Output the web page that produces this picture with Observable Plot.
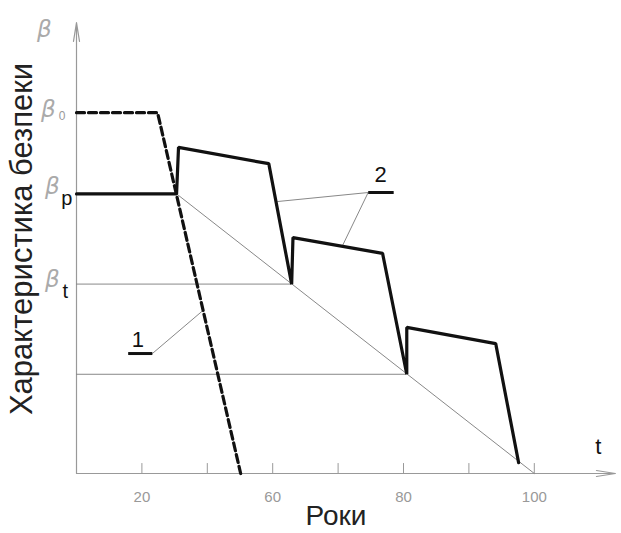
<!DOCTYPE html>
<html>
<head>
<meta charset="utf-8">
<script src="https://cdn.jsdelivr.net/npm/d3@7"></script>
<script src="https://cdn.jsdelivr.net/npm/@observablehq/plot@0.6"></script>
<style>
  html, body { margin: 0; padding: 0; background: #fff; }
  #chart svg { display: block; }
</style>
</head>
<body>
<div id="chart"></div>
<script>
// ---- data (x in tick units, y in arbitrary safety units) ----
const xTicks = [10, 20, 30, 40, 50, 60, 70];
const xTickLabels = ["20", "", "60", "", "80", "", "100"];

// curve 1: dashed (no maintenance)
const curve1X = [0, 12.4, 25.1];
const curve1Y = [80, 80, 0];

// curve 2: thick (with repairs)
const curve2X = [0, 15.3, 15.6, 29.4, 32.9, 33.1, 46.8, 50.5, 50.5, 64.1, 67.6];
const curve2Y = [62, 62, 72.3, 68.7, 42, 52.3, 48.8, 22, 32.4, 28.8, 2.4];

// thin diagonal (degradation limit line)
const diagX = [15.3, 70];
const diagY = [62, 0];

// thin horizontal levels
const levelY = [42, 22];
const levelEndX = [32.9, 50.5];

// leader lines: [x1, y1, x2, y2]
const leaders = [
  [11.6, 26.6, 19.3, 36.1],
  [44.6, 62.3, 30.7, 60.3],
  [44.6, 62.3, 40.7, 50.6]
];
// label underlines
const underlines = [
  [7.9, 26.6, 11.6, 26.6],
  [44.6, 62.3, 48.5, 62.3]
];
const curveLabels = ["1", "2"];
const curveLabelX = [9.4, 46.5];
const curveLabelY = [29.6, 66.2];

// beta labels
const betaLabels = [
  {t: "β", x: -4.9, y: 98.4},
  {t: "β", x: -4.3, y: 80.7},
  {t: "β", x: -3.7, y: 63.6},
  {t: "β", x: -3.7, y: 43.0}
];
const subLabels = [
  {t: "0", x: -2.2, y: 79.2, size: 12, fill: "#999"},
  {t: "p", x: -1.5, y: 61.0, size: 20, fill: "#111"},
  {t: "t", x: -1.7, y: 40.4, size: 20, fill: "#111"}
];

const xAxisEnd = 82.4;
const yAxisEnd = 100;

const c1 = curve1X.map((x, i) => ({x, y: curve1Y[i]}));
const c2 = curve2X.map((x, i) => ({x, y: curve2Y[i]}));
const dg = diagX.map((x, i) => ({x, y: diagY[i]}));
const lv = levelY.map((y, i) => ({x1: 0, x2: levelEndX[i], y}));
const ticks = xTicks.map((x, i) => ({x, label: xTickLabels[i]}));
const cl = curveLabels.map((t, i) => ({t, x: curveLabelX[i], y: curveLabelY[i]}));

const chart = Plot.plot({
  width: 621,
  height: 533,
  margin: 0,
  x: {domain: [0, 80], range: [76, 599.2], axis: null},
  y: {domain: [0, 100], range: [473, 22], axis: null},
  style: {fontFamily: "Liberation Sans, Arial, sans-serif", background: "#fff"},
  marks: [
    // axes with arrows
    Plot.arrow([0], {x1: 0, y1: 0, x2: xAxisEnd, y2: 0, stroke: "#999", strokeWidth: 1.2, headLength: 24, headAngle: 18}),
    Plot.arrow([0], {x1: 0, y1: 0, x2: 0, y2: yAxisEnd, stroke: "#999", strokeWidth: 1.2, headLength: 24, headAngle: 18}),
    // ticks
    Plot.ruleX(ticks, {x: "x", y1: 0, y2: 2.2, stroke: "#999", strokeWidth: 1}),
    Plot.text(ticks, {x: "x", y: 0, text: "label", dy: 24, fill: "#999", fontSize: 15}),
    // thin lines
    Plot.ruleY(lv, {y: "y", x1: "x1", x2: "x2", stroke: "#888", strokeWidth: 1}),
    Plot.line(dg, {x: "x", y: "y", stroke: "#888", strokeWidth: 1}),
    Plot.link(leaders, {x1: d => d[0], y1: d => d[1], x2: d => d[2], y2: d => d[3], stroke: "#888", strokeWidth: 1}),
    // curves
    Plot.line(c1, {x: "x", y: "y", stroke: "#111", strokeWidth: 3.2, strokeDasharray: "8,4"}),
    Plot.line(c2, {x: "x", y: "y", stroke: "#111", strokeWidth: 3.2, strokeLinejoin: "miter"}),
    Plot.link(underlines, {x1: d => d[0], y1: d => d[1], x2: d => d[2], y2: d => d[3], stroke: "#111", strokeWidth: 3}),
    Plot.text(cl, {x: "x", y: "y", text: "t", fontSize: 22, fill: "#111"}),
    // beta labels
    Plot.text(betaLabels, {x: "x", y: "y", text: "t", fontSize: 23, fontStyle: "italic", fill: "#aaa", fontFamily: "DejaVu Sans"}),
    Plot.text(subLabels, {x: "x", y: "y", text: "t", fontSize: d => d.size, fill: d => d.fill}),
    Plot.text(["t"], {x: 79.8, y: 5.8, text: d => d, fontSize: 22, fill: "#111"}),
    // axis titles
    Plot.text(["Характеристика безпеки"], {frameAnchor: "left", textAnchor: "middle", lineAnchor: "middle", text: d => d, rotate: -90, dx: 22, dy: -28, fontSize: 31, fill: "#222"}),
    Plot.text(["Роки"], {frameAnchor: "bottom", textAnchor: "middle", lineAnchor: "bottom", text: d => d, dx: 25, dy: -9, fontSize: 28, fill: "#222"})
  ]
});
document.getElementById("chart").appendChild(chart);
</script>
</body>
</html>
